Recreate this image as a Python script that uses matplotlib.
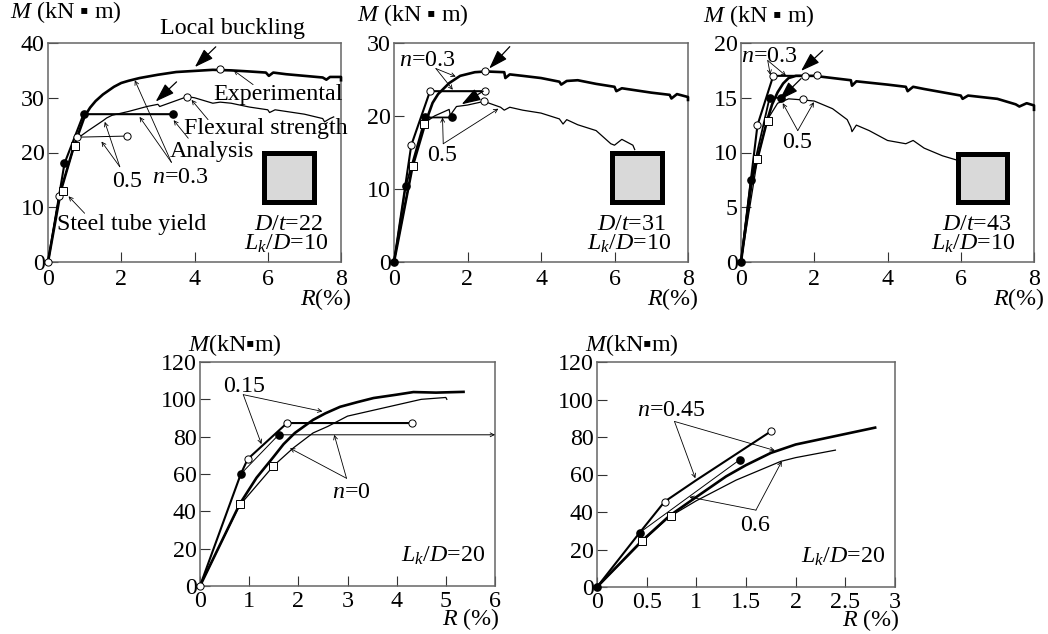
import matplotlib
matplotlib.use("Agg")
import matplotlib.pyplot as plt
from matplotlib.patches import Rectangle

plt.rcParams['font.family'] = ['Liberation Serif', 'DejaVu Sans']
plt.rcParams['mathtext.fontset'] = 'custom'
plt.rcParams['mathtext.rm'] = 'Liberation Serif'
plt.rcParams['mathtext.it'] = 'Liberation Serif:italic'

W, H = 1048, 634
FS = 17.3

# panel a, D/t=22
a_exp03 = [(0,0),(0.35,13),(0.7,21),(1,26.6),(1.15,28.2),(1.3,29.4),(1.5,30.6),(1.8,32),(2,32.7),(2.2,33.1),(2.5,33.6),(3,34.2),(3.5,34.7),(4,34.9),(4.5,35.1),(5,35),(5.5,34.8),(5.95,34.6),(6.03,34),(6.15,34.6),(6.5,34.3),(7,34),(7.5,33.7),(7.6,33.3),(7.7,33.8),(8,33.8),(8,33.2)]
a_exp05 = [(0,0),(0.3,12),(0.7,21),(0.85,22.8),(1.1,24),(1.5,25.8),(1.6,26.3),(1.75,26.8),(2.2,27.5),(2.7,28.4),(3,28.8),(3.05,28.4),(3.3,29),(3.8,30.2),(4,30),(4.5,29),(4.7,29.2),(5,29),(5.5,28.3),(6,27.8),(6.05,27.3),(6.2,27.8),(7,27),(7.5,26.2),(7.55,25.6),(7.7,26.2),(7.8,26.5)]
a_ana03 = [(0,0),(0.45,18),(0.97,27),(3.4,27)]
a_ana05 = [(0,0),(0.3,12),(0.8,22.8),(2.15,23)]
a_open = [(0,0),(0.3,12),(0.8,22.8),(2.15,23),(4.7,35.2),(3.8,30.2)]
a_fill = [(0.45,18),(0.97,27),(3.4,27)]
a_square = [(0.4,13),(0.73,21.1)]

# panel b, D/t=31
b_exp03 = [(0,0),(0.5,13),(0.85,19),(1.05,21.8),(1.2,23),(1.5,24.5),(1.8,25.5),(2.2,26),(2.5,26.1),(3,26),(3.03,25.2),(3.15,25.7),(3.5,25.5),(4,25.2),(4.5,24.7),(4.55,24.3),(4.7,24.8),(5,24.9),(5.5,24.4),(6,24),(6.05,23.4),(6.2,23.8),(7,23.2),(7.5,22.9),(7.55,22.4),(7.7,23),(8,22.6),(8,22.2)]
b_exp05 = [(0,0),(0.5,13),(0.82,19),(1.1,20),(1.5,20.9),(1.53,20.1),(1.7,21.3),(2,21.5),(2.45,22),(2.9,21.2),(3,20.8),(3.15,21.2),(3.5,20.8),(4,20.4),(4.5,19.6),(4.6,18.9),(4.7,19.5),(5,18.8),(5.5,18),(5.9,16.2),(6,16),(6.2,16.8),(6.5,16),(6.55,15.4)]
b_ana03 = [(0,0),(0.47,16),(0.98,23.4),(2.48,23.4)]
b_ana05 = [(0,0),(0.32,10.4),(0.85,19.8),(1.58,19.8)]
b_open = [(0.47,16),(0.98,23.4),(2.48,23.4),(2.48,26.1),(2.45,22)]
b_fill = [(0,0),(0.32,10.4),(0.85,19.8),(1.58,19.8)]
b_square = [(0.53,13.2),(0.82,18.9)]

# panel c, D/t=43
c_exp03 = [(0,0),(0.3,7.5),(0.72,13),(0.85,14.4),(1,15.5),(1.15,16.3),(1.3,16.8),(1.5,17),(2,17),(2.5,16.8),(3,16.6),(3.03,16.1),(3.15,16.5),(4,16.2),(4.5,16),(4.55,15.6),(4.7,16),(5,15.8),(6,15.2),(6.05,14.9),(6.2,15.2),(7,14.9),(7.5,14.4),(7.6,14.2),(7.8,14.5),(8,14.3),(8,13.9)]
c_exp05 = [(0,0),(0.45,9.4),(0.72,13),(1,14.5),(1.3,14.9),(1.7,14.8),(2,14.7),(2.5,14),(2.9,13),(3,12.3),(3.03,11.9),(3.15,12.5),(3.5,12),(4,11.1),(4.5,10.8),(4.7,11.1),(5,10.4),(5.5,9.7),(5.9,9.3)]
c_ana03 = [(0,0),(0.45,12.5),(0.88,17),(1.75,17)]
c_ana05 = [(0,0),(0.27,7.5),(0.78,15),(1.1,15)]
c_open = [(0.45,12.5),(0.88,17),(1.75,17),(2.07,17.1),(1.68,14.9)]
c_fill = [(0,0),(0.27,7.5),(0.78,15),(1.1,15)]
c_square = [(0.45,9.4),(0.73,12.9)]

# panel d, Lk/D=20
d_exp15 = [(0,0),(0.81,44),(1.15,58),(1.49,69),(1.7,76),(1.93,82),(2.3,89),(2.55,92.5),(2.85,96),(3.2,98.5),(3.53,100.7),(4,102.5),(4.34,103.9),(4.8,103.6),(5.36,104)]
d_exp0 = [(0,0),(0.8,43),(1.5,64.5),(1.9,74),(2.3,82),(2.6,85.5),(3,91),(3.5,94),(4,97),(4.5,100),(5,101),(5.02,100)]
d_ana15 = [(0,0),(0.83,60),(0.97,68),(1.77,87.3),(4.32,87.3)]
d_ana0 = [(0.83,60),(1.6,81),(5.9,81)]
d_open = [(0,0),(0.97,68),(1.77,87.3),(4.32,87.3)]
d_fill = [(0.83,60),(1.6,81)]
d_square = [(0.81,43.8),(1.49,64.5)]

# panel e, Lk/D=20
e_exp45 = [(0,0),(0.45,24.5),(0.73,38),(1,48),(1.3,59),(1.5,65),(1.75,71.5),(2,76),(2.4,80.5),(2.8,85)]
e_exp6 = [(0,0),(0.45,24),(0.73,37.5),(1,46),(1.4,57),(1.85,67),(2,69),(2.2,71),(2.4,73)]
e_ana45 = [(0,0),(0.43,29),(0.68,45.5),(1,57),(1.75,83)]
e_ana6 = [(0.43,29),(1.44,68)]
e_open = [(0.68,45.5),(1.75,83)]
e_fill = [(0,0),(0.43,29),(1.44,68)]
e_square = [(0.45,24.5),(0.74,37.8)]

ticks_8 = [0, 2, 4, 6, 8]
ticks_6 = [0, 1, 2, 3, 4, 5, 6]
ticks_3 = [0, 0.5, 1, 1.5, 2, 2.5, 3]
ticks_3_lab = ['0', '0.5', '1', '1.5', '2', '2.5', '3']
ticks_120 = [0, 20, 40, 60, 80, 100, 120]


def xy(pts):
    return [p[0] for p in pts], [p[1] for p in pts]


def make_ax(left, right, top, bottom, xmax, ymax, xt, yt, xl=None, xpad=5):
    ax = fig.add_axes([left / W, 1 - bottom / H, (right - left) / W, (bottom - top) / H])
    ax.set_xlim(0, xmax)
    ax.set_ylim(0, ymax)
    ax.set_xticks(xt)
    if xl:
        ax.set_xticklabels(xl)
    ax.set_yticks(yt)
    ax.tick_params(direction='in', length=7, width=0.8, labelsize=FS, color='#333333')
    ax.tick_params(axis='x', pad=xpad)
    ax.tick_params(axis='y', pad=2.5)
    for s in ax.spines.values():
        s.set_color('#666666')
        s.set_linewidth(1.1)
    return ax


def line(ax, pts, lw):
    x, y = xy(pts)
    ax.plot(x, y, color='black', lw=lw, zorder=3, clip_on=False, solid_joinstyle='round')


def marks(ax, op, fi, sq):
    x, y = xy(op)
    ax.plot(x, y, 'o', ms=5.2, mfc='white', mec='black', mew=0.7, zorder=5, clip_on=False)
    x, y = xy(fi)
    ax.plot(x, y, 'o', ms=5.2, mfc='black', mec='black', zorder=5, clip_on=False)
    x, y = xy(sq)
    ax.plot(x, y, 's', ms=5.2, mfc='white', mec='black', mew=0.7, zorder=5, clip_on=False)


def thin(ax, start, end):
    ax.annotate('', xy=end, xytext=start, zorder=6, annotation_clip=False,
                arrowprops=dict(arrowstyle='->', lw=0.6, color='black', mutation_scale=7,
                                shrinkA=0, shrinkB=0))


def bold(ax, start, end):
    ax.annotate('', xy=end, xytext=start, zorder=6, annotation_clip=False,
                arrowprops=dict(arrowstyle='-|>,head_length=0.9,head_width=0.3', lw=0.9,
                                color='black', fc='black', mutation_scale=13,
                                shrinkA=0, shrinkB=0))


def label(ax, x, y, s, ha='left', va='baseline', size=FS):
    ax.text(x, y, s, ha=ha, va=va, fontsize=size, zorder=7, clip_on=False)


def square(ax, x0, x1, y0, y1):
    ax.add_patch(Rectangle((x0, y0), x1 - x0, y1 - y0, fc='#d9d9d9', ec='black', lw=3.6, zorder=4))


fig = plt.figure(figsize=(W / 100, H / 100), dpi=100)

# top left
ax = make_ax(48, 341, 43, 262, 8, 40, ticks_8, [0, 10, 20, 30, 40])
line(ax, a_exp03, 1.9)
line(ax, a_exp05, 0.9)
line(ax, a_ana03, 1.5)
line(ax, a_ana05, 0.7)
marks(ax, a_open, a_fill, a_square)
bold(ax, (4.58, 39.3), (4.01, 35.6))
bold(ax, (3.51, 32.9), (2.94, 29.3))
thin(ax, (5.6, 32.4), (5.07, 35))
thin(ax, (4.37, 26), (3.92, 29.6))
thin(ax, (3.83, 22.6), (3.43, 25.9))
thin(ax, (3.37, 18.2), (2.37, 33.2))
thin(ax, (3.37, 18.2), (2.5, 26.5))
thin(ax, (1.96, 17.4), (1.55, 25.6))
thin(ax, (1.96, 17.4), (1.46, 22))
thin(ax, (1.0, 8.9), (0.56, 12))
square(ax, 5.9, 7.27, 11, 19.9)
label(ax, -1.05, 44.6, '$M$ (kN ▪ m)')
label(ax, 3.06, 41.7, 'Local buckling')
label(ax, 4.5, 29.6, 'Experimental')
label(ax, 3.7, 23.4, 'Flexural strength')
label(ax, 3.33, 19.1, 'Analysis')
label(ax, 1.75, 13.7, '0.5')
label(ax, 2.83, 14.4, '$n$=0.3')
label(ax, 0.25, 5.8, 'Steel tube yield')
label(ax, 6.56, 5.9, '$D/t$=22', ha='center')
label(ax, 6.5, 2.2, '$L_k/D$=10', ha='center')
label(ax, 8.3, -7.8, '$R$(%)', ha='right')

# top middle
ax = make_ax(394, 688, 43, 262, 8, 30, ticks_8, [0, 10, 20, 30])
line(ax, b_exp03, 1.9)
line(ax, b_exp05, 0.9)
line(ax, b_ana03, 1.5)
line(ax, b_ana05, 1.3)
marks(ax, b_open, b_fill, b_square)
bold(ax, (3.15, 29.5), (2.59, 26.5))
bold(ax, (2.43, 23.4), (1.84, 21.6))
thin(ax, (1.14, 26.5), (1.68, 25.4))
thin(ax, (1.14, 26.5), (1.6, 23.6))
thin(ax, (1.34, 16.2), (1.32, 19.8))
thin(ax, (1.34, 16.2), (2.84, 21))
square(ax, 5.92, 7.28, 8.2, 14.9)
label(ax, -1.0, 33, '$M$ (kN ▪ m)')
label(ax, 0.14, 26.8, '$n$=0.3')
label(ax, 0.9, 13.8, '0.5')
label(ax, 6.45, 4.4, '$D/t$=31', ha='center')
label(ax, 6.4, 1.65, '$L_k/D$=10', ha='center')
label(ax, 8.3, -5.9, '$R$(%)', ha='right')

# top right
ax = make_ax(741, 1034, 43, 262, 8, 20, ticks_8, [0, 5, 10, 15, 20])
line(ax, c_exp03, 1.9)
line(ax, c_exp05, 0.9)
line(ax, c_ana03, 1.5)
line(ax, c_ana05, 1.3)
marks(ax, c_open, c_fill, c_square)
bold(ax, (2.23, 19.3), (1.64, 17.45))
bold(ax, (1.64, 16.75), (1.05, 14.8))
thin(ax, (0.73, 18.4), (0.8, 17.1))
thin(ax, (0.73, 18.4), (1.23, 17))
thin(ax, (1.55, 12), (1.14, 14.5))
thin(ax, (1.55, 12), (1.99, 14.6))
square(ax, 5.92, 7.25, 5.5, 9.9)
label(ax, -1.04, 21.9, '$M$ (kN ▪ m)')
label(ax, 0.0, 18.3, '$n$=0.3')
label(ax, 1.12, 10.4, '0.5')
label(ax, 6.45, 2.9, '$D/t$=43', ha='center')
label(ax, 6.35, 1.1, '$L_k/D$=10', ha='center')
label(ax, 8.3, -3.9, '$R$(%)', ha='right')

# bottom left
ax = make_ax(200, 495, 362, 586, 6, 120, ticks_6, ticks_120, xpad=3.5)
line(ax, d_exp15, 1.9)
line(ax, d_exp0, 0.9)
line(ax, d_ana15, 1.5)
line(ax, d_ana0, 0.7)
marks(ax, d_open, d_fill, d_square)
thin(ax, (5.9, 81), (6, 81))
thin(ax, (0.88, 102.5), (1.25, 76))
thin(ax, (0.88, 102.5), (2.49, 93.5))
thin(ax, (2.98, 57.7), (2.73, 81))
thin(ax, (2.98, 57.7), (1.83, 73.8))
label(ax, -0.24, 125.9, '$M$(kN▪m)')
label(ax, 0.47, 104, '0.15')
label(ax, 2.68, 47, '$n$=0')
label(ax, 5.8, 13, '$L_k/D$=20', ha='right')
label(ax, 6.1, -21, '$R$ (%)', ha='right')

# bottom right
ax = make_ax(597, 895, 362, 587, 3, 120, ticks_3, ticks_120, ticks_3_lab, xpad=3.5)
line(ax, e_exp45, 1.9)
line(ax, e_exp6, 0.9)
line(ax, e_ana45, 1.5)
line(ax, e_ana6, 0.7)
marks(ax, e_open, e_fill, e_square)
thin(ax, (0.78, 88.3), (0.99, 58))
thin(ax, (0.78, 88.3), (1.79, 72.8))
thin(ax, (1.6, 41), (1.86, 67))
thin(ax, (1.6, 41), (0.93, 48))
label(ax, -0.12, 125.9, '$M$(kN▪m)')
label(ax, 0.4, 91, '$n$=0.45')
label(ax, 1.44, 30, '0.6')
label(ax, 2.9, 13, '$L_k/D$=20', ha='right')
label(ax, 3.05, -21, '$R$ (%)', ha='right')

fig.savefig('out.png', dpi=100, facecolor='white')
